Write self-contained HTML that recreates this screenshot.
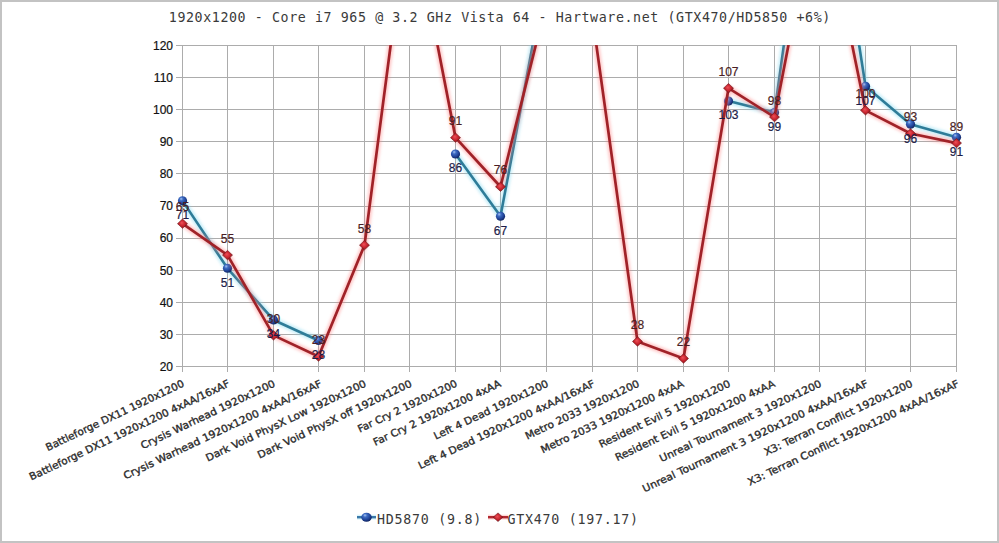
<!DOCTYPE html><html><head><meta charset="utf-8"><style>html,body{margin:0;padding:0;background:#fff;}svg{display:block}</style></head><body>
<svg width="999" height="543" viewBox="0 0 999 543">
<defs>
<radialGradient id="gb" cx="0.4" cy="0.35" r="0.65" fx="0.35" fy="0.28"><stop offset="0" stop-color="#a8c4f0"/><stop offset="0.3" stop-color="#3d6cc4"/><stop offset="0.75" stop-color="#1d3f92"/><stop offset="1" stop-color="#102460"/></radialGradient>
<radialGradient id="gr" cx="0.5" cy="0.5" r="0.6" fx="0.42" fy="0.4"><stop offset="0" stop-color="#ee5058"/><stop offset="0.5" stop-color="#c8242e"/><stop offset="1" stop-color="#7a1018"/></radialGradient>
<clipPath id="pc"><rect x="150" y="45" width="840" height="330"/></clipPath>
<filter id="glow" x="-10%" y="-10%" width="120%" height="120%"><feGaussianBlur stdDeviation="1.6"/></filter>
</defs>
<rect x="1" y="1" width="997" height="541" fill="#fff" stroke="#c3c3c3" stroke-width="2"/>
<path d="M176 45.5H957 M176 77.5H957 M176 109.5H957 M176 141.5H957 M176 173.5H957 M176 206.5H957 M176 238.5H957 M176 270.5H957 M176 302.5H957 M176 334.5H957 M176 366.5H957 M182.5 45V372 M227.5 45V372 M273.5 45V372 M318.5 45V372 M364.5 45V372 M409.5 45V372 M455.5 45V372 M500.5 45V372 M546.5 45V372 M592.5 45V372 M637.5 45V372 M683.5 45V372 M728.5 45V372 M774.5 45V372 M819.5 45V372 M865.5 45V372 M910.5 45V372 M956.5 45V372" stroke="#acacac" stroke-width="1" fill="none"/>
<text x="173" y="49.80" text-anchor="end" font-family="Liberation Sans, Arial, sans-serif" font-size="12" fill="#111" stroke="#111" stroke-width="0.2">120</text>
<text x="173" y="81.90" text-anchor="end" font-family="Liberation Sans, Arial, sans-serif" font-size="12" fill="#111" stroke="#111" stroke-width="0.2">110</text>
<text x="173" y="114.00" text-anchor="end" font-family="Liberation Sans, Arial, sans-serif" font-size="12" fill="#111" stroke="#111" stroke-width="0.2">100</text>
<text x="173" y="146.10" text-anchor="end" font-family="Liberation Sans, Arial, sans-serif" font-size="12" fill="#111" stroke="#111" stroke-width="0.2">90</text>
<text x="173" y="178.20" text-anchor="end" font-family="Liberation Sans, Arial, sans-serif" font-size="12" fill="#111" stroke="#111" stroke-width="0.2">80</text>
<text x="173" y="210.30" text-anchor="end" font-family="Liberation Sans, Arial, sans-serif" font-size="12" fill="#111" stroke="#111" stroke-width="0.2">70</text>
<text x="173" y="242.40" text-anchor="end" font-family="Liberation Sans, Arial, sans-serif" font-size="12" fill="#111" stroke="#111" stroke-width="0.2">60</text>
<text x="173" y="274.50" text-anchor="end" font-family="Liberation Sans, Arial, sans-serif" font-size="12" fill="#111" stroke="#111" stroke-width="0.2">50</text>
<text x="173" y="306.60" text-anchor="end" font-family="Liberation Sans, Arial, sans-serif" font-size="12" fill="#111" stroke="#111" stroke-width="0.2">40</text>
<text x="173" y="338.70" text-anchor="end" font-family="Liberation Sans, Arial, sans-serif" font-size="12" fill="#111" stroke="#111" stroke-width="0.2">30</text>
<text x="173" y="370.80" text-anchor="end" font-family="Liberation Sans, Arial, sans-serif" font-size="12" fill="#111" stroke="#111" stroke-width="0.2">20</text>
<text class="xl" transform="translate(184.90,386) rotate(-25.4)" text-anchor="end" font-family='"DejaVu Sans", sans-serif' font-size="10.2" fill="#2a2a2a" stroke="#2a2a2a" stroke-width="0.35" textLength="151.9" lengthAdjust="spacingAndGlyphs">Battleforge DX11 1920x1200</text>
<text class="xl" transform="translate(230.43,386) rotate(-25.4)" text-anchor="end" font-family='"DejaVu Sans", sans-serif' font-size="10.2" fill="#2a2a2a" stroke="#2a2a2a" stroke-width="0.35" textLength="220.4" lengthAdjust="spacingAndGlyphs">Battleforge DX11 1920x1200 4xAA/16xAF</text>
<text class="xl" transform="translate(275.96,386) rotate(-25.4)" text-anchor="end" font-family='"DejaVu Sans", sans-serif' font-size="10.2" fill="#2a2a2a" stroke="#2a2a2a" stroke-width="0.35" textLength="147.5" lengthAdjust="spacingAndGlyphs">Crysis Warhead 1920x1200</text>
<text class="xl" transform="translate(322.49,386) rotate(-25.4)" text-anchor="end" font-family='"DejaVu Sans", sans-serif' font-size="10.2" fill="#2a2a2a" stroke="#2a2a2a" stroke-width="0.35" textLength="218.2" lengthAdjust="spacingAndGlyphs">Crysis Warhead 1920x1200 4xAA/16xAF</text>
<text class="xl" transform="translate(367.02,386) rotate(-25.4)" text-anchor="end" font-family='"DejaVu Sans", sans-serif' font-size="10.2" fill="#2a2a2a" stroke="#2a2a2a" stroke-width="0.35" textLength="176.4" lengthAdjust="spacingAndGlyphs">Dark Void PhysX Low 1920x1200</text>
<text class="xl" transform="translate(412.55,386) rotate(-25.4)" text-anchor="end" font-family='"DejaVu Sans", sans-serif' font-size="10.2" fill="#2a2a2a" stroke="#2a2a2a" stroke-width="0.35" textLength="169.4" lengthAdjust="spacingAndGlyphs">Dark Void PhysX off 1920x1200</text>
<text class="xl" transform="translate(458.08,386) rotate(-25.4)" text-anchor="end" font-family='"DejaVu Sans", sans-serif' font-size="10.2" fill="#2a2a2a" stroke="#2a2a2a" stroke-width="0.35" textLength="108.8" lengthAdjust="spacingAndGlyphs">Far Cry 2 1920x1200</text>
<text class="xl" transform="translate(501.61,386) rotate(-25.4)" text-anchor="end" font-family='"DejaVu Sans", sans-serif' font-size="10.2" fill="#2a2a2a" stroke="#2a2a2a" stroke-width="0.35" textLength="139.9" lengthAdjust="spacingAndGlyphs">Far Cry 2 1920x1200 4xAA</text>
<text class="xl" transform="translate(549.14,386) rotate(-25.4)" text-anchor="end" font-family='"DejaVu Sans", sans-serif' font-size="10.2" fill="#2a2a2a" stroke="#2a2a2a" stroke-width="0.35" textLength="125.5" lengthAdjust="spacingAndGlyphs">Left 4 Dead 1920x1200</text>
<text class="xl" transform="translate(595.67,386) rotate(-25.4)" text-anchor="end" font-family='"DejaVu Sans", sans-serif' font-size="10.2" fill="#2a2a2a" stroke="#2a2a2a" stroke-width="0.35" textLength="194.3" lengthAdjust="spacingAndGlyphs">Left 4 Dead 1920x1200 4xAA/16xAF</text>
<text class="xl" transform="translate(640.20,386) rotate(-25.4)" text-anchor="end" font-family='"DejaVu Sans", sans-serif' font-size="10.2" fill="#2a2a2a" stroke="#2a2a2a" stroke-width="0.35" textLength="125.1" lengthAdjust="spacingAndGlyphs">Metro 2033 1920x1200</text>
<text class="xl" transform="translate(684.73,386) rotate(-25.4)" text-anchor="end" font-family='"DejaVu Sans", sans-serif' font-size="10.2" fill="#2a2a2a" stroke="#2a2a2a" stroke-width="0.35" textLength="157.3" lengthAdjust="spacingAndGlyphs">Metro 2033 1920x1200 4xAA</text>
<text class="xl" transform="translate(731.26,386) rotate(-25.4)" text-anchor="end" font-family='"DejaVu Sans", sans-serif' font-size="10.2" fill="#2a2a2a" stroke="#2a2a2a" stroke-width="0.35" textLength="144.3" lengthAdjust="spacingAndGlyphs">Resident Evil 5 1920x1200</text>
<text class="xl" transform="translate(775.79,386) rotate(-25.4)" text-anchor="end" font-family='"DejaVu Sans", sans-serif' font-size="10.2" fill="#2a2a2a" stroke="#2a2a2a" stroke-width="0.35" textLength="175.5" lengthAdjust="spacingAndGlyphs">Resident Evil 5 1920x1200 4xAA</text>
<text class="xl" transform="translate(822.32,386) rotate(-25.4)" text-anchor="end" font-family='"DejaVu Sans", sans-serif' font-size="10.2" fill="#2a2a2a" stroke="#2a2a2a" stroke-width="0.35" textLength="178.0" lengthAdjust="spacingAndGlyphs">Unreal Tournament 3 1920x1200</text>
<text class="xl" transform="translate(868.85,386) rotate(-25.4)" text-anchor="end" font-family='"DejaVu Sans", sans-serif' font-size="10.2" fill="#2a2a2a" stroke="#2a2a2a" stroke-width="0.35" textLength="248.3" lengthAdjust="spacingAndGlyphs">Unreal Tournament 3 1920x1200 4xAA/16xAF</text>
<text class="xl" transform="translate(913.38,386) rotate(-25.4)" text-anchor="end" font-family='"DejaVu Sans", sans-serif' font-size="10.2" fill="#2a2a2a" stroke="#2a2a2a" stroke-width="0.35" textLength="162.9" lengthAdjust="spacingAndGlyphs">X3: Terran Conflict 1920x1200</text>
<text class="xl" transform="translate(959.91,386) rotate(-25.4)" text-anchor="end" font-family='"DejaVu Sans", sans-serif' font-size="10.2" fill="#2a2a2a" stroke="#2a2a2a" stroke-width="0.35" textLength="232.6" lengthAdjust="spacingAndGlyphs">X3: Terran Conflict 1920x1200 4xAA/16xAF</text>
<g clip-path="url(#pc)">
<path d="M182.50 200.86 L227.50 268.27 L273.50 319.95 L318.50 340.50" fill="none" stroke="#7fd8f0" stroke-width="6" stroke-linejoin="round" opacity="0.45" filter="url(#glow)"/>
<path d="M182.50 200.86 L227.50 268.27 L273.50 319.95 L318.50 340.50" fill="none" stroke="#2e7c98" stroke-width="2.6" stroke-linejoin="round"/>
<path d="M455.50 154.00 L500.50 216.27 L546.50 -28.33" fill="none" stroke="#7fd8f0" stroke-width="6" stroke-linejoin="round" opacity="0.45" filter="url(#glow)"/>
<path d="M455.50 154.00 L500.50 216.27 L546.50 -28.33" fill="none" stroke="#2e7c98" stroke-width="2.6" stroke-linejoin="round"/>
<path d="M728.50 101.03 L774.50 112.59 L819.50 -211.30 L865.50 86.27 L910.50 124.14 L956.50 137.31" fill="none" stroke="#7fd8f0" stroke-width="6" stroke-linejoin="round" opacity="0.45" filter="url(#glow)"/>
<path d="M728.50 101.03 L774.50 112.59 L819.50 -211.30 L865.50 86.27 L910.50 124.14 L956.50 137.31" fill="none" stroke="#2e7c98" stroke-width="2.6" stroke-linejoin="round"/>
</g>
<circle cx="182.50" cy="200.86" r="4.6" fill="url(#gb)"/>
<circle cx="227.50" cy="268.27" r="4.6" fill="url(#gb)"/>
<circle cx="273.50" cy="319.95" r="4.6" fill="url(#gb)"/>
<circle cx="318.50" cy="340.50" r="4.6" fill="url(#gb)"/>
<circle cx="455.50" cy="154.00" r="4.6" fill="url(#gb)"/>
<circle cx="500.50" cy="216.27" r="4.6" fill="url(#gb)"/>
<circle cx="728.50" cy="101.03" r="4.6" fill="url(#gb)"/>
<circle cx="774.50" cy="112.59" r="4.6" fill="url(#gb)"/>
<circle cx="865.50" cy="86.27" r="4.6" fill="url(#gb)"/>
<circle cx="910.50" cy="124.14" r="4.6" fill="url(#gb)"/>
<circle cx="956.50" cy="137.31" r="4.6" fill="url(#gb)"/>
<g clip-path="url(#pc)">
<path d="M182.50 223.66 L227.50 255.11 L273.50 335.36 L318.50 356.55 L364.50 245.16 L409.50 -98.95 L455.50 137.63 L500.50 186.74 L546.50 2.16 L592.50 17.25 L637.50 341.46 L683.50 358.48 L728.50 88.19 L774.50 117.08 L819.50 -115.00 L865.50 110.34 L910.50 133.45 L956.50 143.08" fill="none" stroke="#ff8080" stroke-width="6" stroke-linejoin="round" opacity="0.45" filter="url(#glow)"/>
<path d="M182.50 223.66 L227.50 255.11 L273.50 335.36 L318.50 356.55 L364.50 245.16 L409.50 -98.95 L455.50 137.63 L500.50 186.74 L546.50 2.16 L592.50 17.25 L637.50 341.46 L683.50 358.48 L728.50 88.19 L774.50 117.08 L819.50 -115.00 L865.50 110.34 L910.50 133.45 L956.50 143.08" fill="none" stroke="#a02228" stroke-width="2.7" stroke-linejoin="round"/>
</g>
<path d="M182.50 218.96L187.50 223.66L182.50 228.35L177.50 223.66Z" fill="url(#gr)" stroke="#6e1418" stroke-width="0.6"/>
<path d="M227.50 250.41L232.50 255.11L227.50 259.81L222.50 255.11Z" fill="url(#gr)" stroke="#6e1418" stroke-width="0.6"/>
<path d="M273.50 330.66L278.50 335.36L273.50 340.06L268.50 335.36Z" fill="url(#gr)" stroke="#6e1418" stroke-width="0.6"/>
<path d="M318.50 351.85L323.50 356.55L318.50 361.25L313.50 356.55Z" fill="url(#gr)" stroke="#6e1418" stroke-width="0.6"/>
<path d="M364.50 240.46L369.50 245.16L364.50 249.86L359.50 245.16Z" fill="url(#gr)" stroke="#6e1418" stroke-width="0.6"/>
<path d="M455.50 132.93L460.50 137.63L455.50 142.33L450.50 137.63Z" fill="url(#gr)" stroke="#6e1418" stroke-width="0.6"/>
<path d="M500.50 182.04L505.50 186.74L500.50 191.44L495.50 186.74Z" fill="url(#gr)" stroke="#6e1418" stroke-width="0.6"/>
<path d="M637.50 336.76L642.50 341.46L637.50 346.16L632.50 341.46Z" fill="url(#gr)" stroke="#6e1418" stroke-width="0.6"/>
<path d="M683.50 353.78L688.50 358.48L683.50 363.18L678.50 358.48Z" fill="url(#gr)" stroke="#6e1418" stroke-width="0.6"/>
<path d="M728.50 83.49L733.50 88.19L728.50 92.89L723.50 88.19Z" fill="url(#gr)" stroke="#6e1418" stroke-width="0.6"/>
<path d="M774.50 112.38L779.50 117.08L774.50 121.78L769.50 117.08Z" fill="url(#gr)" stroke="#6e1418" stroke-width="0.6"/>
<path d="M865.50 105.64L870.50 110.34L865.50 115.04L860.50 110.34Z" fill="url(#gr)" stroke="#6e1418" stroke-width="0.6"/>
<path d="M910.50 128.75L915.50 133.45L910.50 138.15L905.50 133.45Z" fill="url(#gr)" stroke="#6e1418" stroke-width="0.6"/>
<path d="M956.50 138.38L961.50 143.08L956.50 147.78L951.50 143.08Z" fill="url(#gr)" stroke="#6e1418" stroke-width="0.6"/>
<text x="182.50" y="219.26" text-anchor="middle" font-family="Liberation Sans, Arial, sans-serif" font-size="12" fill="#1c1c48" stroke="#1c1c48" stroke-width="0.2">71</text>
<text x="227.50" y="286.67" text-anchor="middle" font-family="Liberation Sans, Arial, sans-serif" font-size="12" fill="#1c1c48" stroke="#1c1c48" stroke-width="0.2">51</text>
<text x="273.50" y="338.35" text-anchor="middle" font-family="Liberation Sans, Arial, sans-serif" font-size="12" fill="#1c1c48" stroke="#1c1c48" stroke-width="0.2">34</text>
<text x="318.50" y="358.90" text-anchor="middle" font-family="Liberation Sans, Arial, sans-serif" font-size="12" fill="#1c1c48" stroke="#1c1c48" stroke-width="0.2">28</text>
<text x="455.50" y="172.40" text-anchor="middle" font-family="Liberation Sans, Arial, sans-serif" font-size="12" fill="#1c1c48" stroke="#1c1c48" stroke-width="0.2">86</text>
<text x="500.50" y="234.67" text-anchor="middle" font-family="Liberation Sans, Arial, sans-serif" font-size="12" fill="#1c1c48" stroke="#1c1c48" stroke-width="0.2">67</text>
<text x="728.50" y="119.43" text-anchor="middle" font-family="Liberation Sans, Arial, sans-serif" font-size="12" fill="#1c1c48" stroke="#1c1c48" stroke-width="0.2">103</text>
<text x="774.50" y="130.99" text-anchor="middle" font-family="Liberation Sans, Arial, sans-serif" font-size="12" fill="#1c1c48" stroke="#1c1c48" stroke-width="0.2">99</text>
<text x="865.50" y="104.67" text-anchor="middle" font-family="Liberation Sans, Arial, sans-serif" font-size="12" fill="#1c1c48" stroke="#1c1c48" stroke-width="0.2">107</text>
<text x="910.50" y="142.54" text-anchor="middle" font-family="Liberation Sans, Arial, sans-serif" font-size="12" fill="#1c1c48" stroke="#1c1c48" stroke-width="0.2">96</text>
<text x="956.50" y="155.71" text-anchor="middle" font-family="Liberation Sans, Arial, sans-serif" font-size="12" fill="#1c1c48" stroke="#1c1c48" stroke-width="0.2">91</text>
<text x="182.50" y="211.35" text-anchor="middle" font-family="Liberation Sans, Arial, sans-serif" font-size="12" fill="#4a1e24" stroke="#4a1e24" stroke-width="0.2">65</text>
<text x="227.50" y="242.81" text-anchor="middle" font-family="Liberation Sans, Arial, sans-serif" font-size="12" fill="#4a1e24" stroke="#4a1e24" stroke-width="0.2">55</text>
<text x="273.50" y="323.06" text-anchor="middle" font-family="Liberation Sans, Arial, sans-serif" font-size="12" fill="#4a1e24" stroke="#4a1e24" stroke-width="0.2">30</text>
<text x="318.50" y="344.25" text-anchor="middle" font-family="Liberation Sans, Arial, sans-serif" font-size="12" fill="#4a1e24" stroke="#4a1e24" stroke-width="0.2">23</text>
<text x="364.50" y="232.86" text-anchor="middle" font-family="Liberation Sans, Arial, sans-serif" font-size="12" fill="#4a1e24" stroke="#4a1e24" stroke-width="0.2">58</text>
<text x="455.50" y="125.33" text-anchor="middle" font-family="Liberation Sans, Arial, sans-serif" font-size="12" fill="#4a1e24" stroke="#4a1e24" stroke-width="0.2">91</text>
<text x="500.50" y="174.44" text-anchor="middle" font-family="Liberation Sans, Arial, sans-serif" font-size="12" fill="#4a1e24" stroke="#4a1e24" stroke-width="0.2">76</text>
<text x="637.50" y="329.16" text-anchor="middle" font-family="Liberation Sans, Arial, sans-serif" font-size="12" fill="#4a1e24" stroke="#4a1e24" stroke-width="0.2">28</text>
<text x="683.50" y="346.18" text-anchor="middle" font-family="Liberation Sans, Arial, sans-serif" font-size="12" fill="#4a1e24" stroke="#4a1e24" stroke-width="0.2">22</text>
<text x="728.50" y="75.89" text-anchor="middle" font-family="Liberation Sans, Arial, sans-serif" font-size="12" fill="#4a1e24" stroke="#4a1e24" stroke-width="0.2">107</text>
<text x="774.50" y="104.78" text-anchor="middle" font-family="Liberation Sans, Arial, sans-serif" font-size="12" fill="#4a1e24" stroke="#4a1e24" stroke-width="0.2">98</text>
<text x="865.50" y="98.04" text-anchor="middle" font-family="Liberation Sans, Arial, sans-serif" font-size="12" fill="#4a1e24" stroke="#4a1e24" stroke-width="0.2">100</text>
<text x="910.50" y="121.15" text-anchor="middle" font-family="Liberation Sans, Arial, sans-serif" font-size="12" fill="#4a1e24" stroke="#4a1e24" stroke-width="0.2">93</text>
<text x="956.50" y="130.78" text-anchor="middle" font-family="Liberation Sans, Arial, sans-serif" font-size="12" fill="#4a1e24" stroke="#4a1e24" stroke-width="0.2">89</text>
<text x="168.8" y="22" font-family='"DejaVu Sans Mono", monospace' font-size="13.3" letter-spacing="0.593" fill="#3a3a3a">1920x1200 - Core i7 965 @ 3.2 GHz Vista 64 - Hartware.net (GTX470/HD5850 +6%)</text>
<path d="M357 517.2H376" stroke="#7fd8f0" stroke-width="5" opacity="0.3"/><path d="M357 517.2H376" stroke="#3a78a8" stroke-width="2.4"/>
<ellipse cx="366.5" cy="517.2" rx="5.2" ry="4.5" fill="url(#gb)"/>
<text x="377" y="524" font-family='"DejaVu Sans Mono", monospace' font-size="13.3" letter-spacing="0.75" fill="#3a3a3a">HD5870 (9.8)</text>
<path d="M488 517.2H508" stroke="#ff8080" stroke-width="5" opacity="0.3"/><path d="M488 517.2H508" stroke="#b02830" stroke-width="2.4"/>
<path d="M498.00 512.90L502.80 517.20L498.00 521.50L493.20 517.20Z" fill="url(#gr)" stroke="#6e1418" stroke-width="0.6"/>
<text x="507.5" y="524" font-family='"DejaVu Sans Mono", monospace' font-size="13.3" letter-spacing="0.75" fill="#3a3a3a">GTX470 (197.17)</text>
</svg></body></html>
